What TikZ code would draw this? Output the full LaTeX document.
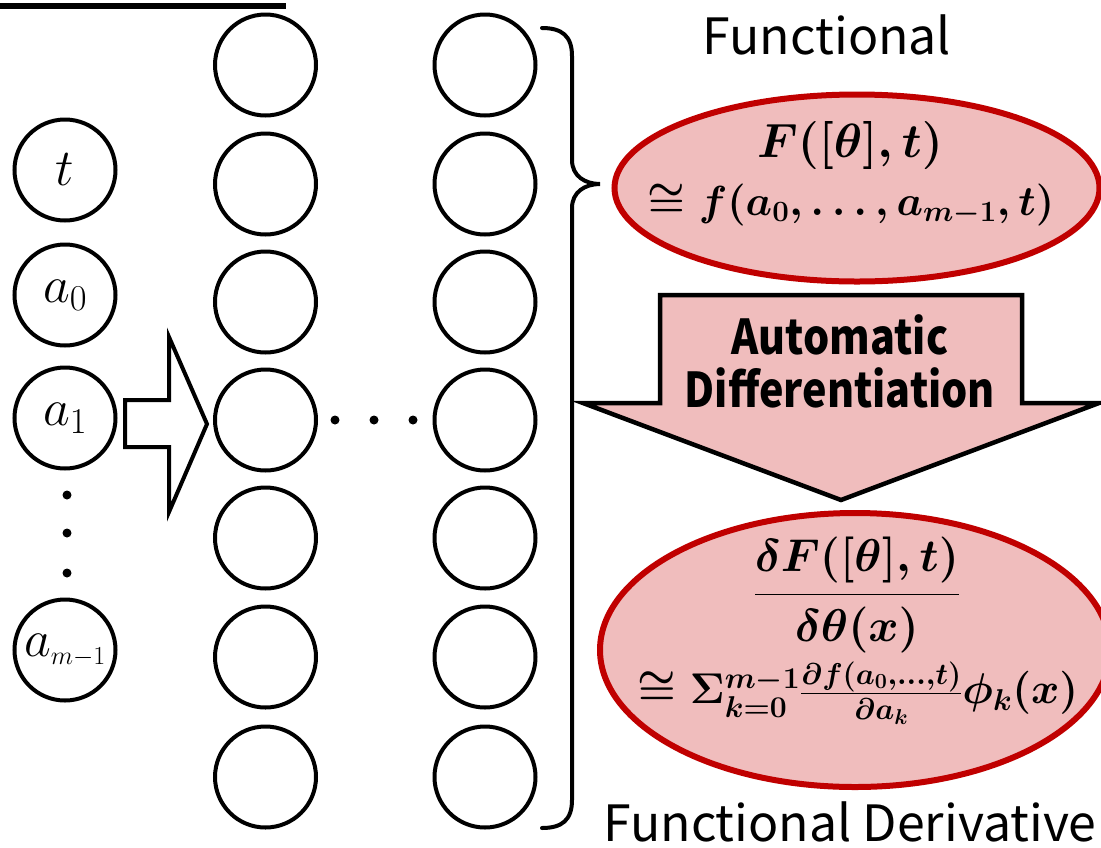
\RequirePackage{fix-cm}
\documentclass[tikz,border=0pt]{standalone}
\usepackage{amsmath}
\usepackage{fontspec}
\newfontfamily\jpfont{Noto Sans CJK JP}
\newfontfamily\adfont{Noto Sans CJK JP}[FakeStretch=0.86]
\usetikzlibrary{shapes.geometric}
\definecolor{pinkfill}{RGB}{240,189,189}
\definecolor{darkred}{RGB}{192,0,0}
\tikzset{
  neuron/.style={circle, draw=black, line width=4pt, minimum size=101pt, inner sep=0pt,
    font=\fontsize{52}{60}\selectfont},
  redell/.style={ellipse, draw=darkred, fill=pinkfill, line width=6pt, inner sep=0pt},
  formula/.style={inner sep=0pt, font=\fontsize{46}{55}\selectfont\boldmath},
  caption/.style={inner sep=0pt, font=\fontsize{50}{60}\selectfont\jpfont},
  adtext/.style={inner sep=0pt, font=\fontsize{48}{58}\selectfont\adfont\bfseries},
  hollowarrow/.style={draw=black, line width=4pt, line join=miter, fill=white},
  pinkarrow/.style={draw=black, line width=4.5pt, line join=miter, fill=pinkfill},
  bracestyle/.style={draw=black, line width=4pt, line cap=round},
}
\begin{document}
\begin{tikzpicture}[x=1pt,y=-1pt]
\useasboundingbox (0,0) rectangle (1101,847);
% top line
\draw[line width=6pt] (0,6) -- (286,6);
% input column
\node[neuron] (nt) at (65,170) {$t$};
\node[neuron] (na0) at (65,295) {$a_0$};
\node[neuron] (na1) at (65,418) {$a_1$};
\node[neuron] (nam) at (65,650) {$a_{\scriptscriptstyle m-1}$};
\fill (67,495) circle (4.5pt) (67,533) circle (4.5pt) (67,573) circle (4.5pt);
% hollow arrow
\draw[hollowarrow] (125,400) -- (169,400) -- (169,337) -- (207,424) -- (169,512) -- (169,447) -- (125,447) -- cycle;
% hidden layers
\foreach \i/\y in {1/65,2/184,3/302,4/420,5/538,6/657,7/777}{
  \node[neuron] (ha\i) at (265.5,\y) {};
  \node[neuron] (hb\i) at (485,\y) {};
}
\fill (335,420) circle (4.5pt) (374,420) circle (4.5pt) (413,420) circle (4.5pt);
% brace
\draw[bracestyle] (542,28) .. controls (562,28) and (572,36) .. (572,56) -- (572,160)
  .. controls (572,176) and (585,184) .. (600,184)
  .. controls (585,184) and (572,192) .. (572,208) -- (572,800)
  .. controls (572,820) and (562,828) .. (542,828);
% functional
\node[caption] (lf) at (827,35) {Functional};
\node[redell, minimum width=485pt, minimum height=187pt] (e1) at (857,188) {};
\node[formula, font=\fontsize{48}{56}\selectfont\boldmath] (f1) at (850,145) {$F([\theta],t)$};
\node[formula, font=\fontsize{42}{50}\selectfont\boldmath] (f2) at (851,205) {$\cong f(a_0,\ldots,a_{m-1},t)$};
% AD arrow
\draw[pinkarrow] (660,295) -- (1022,295) -- (1022,403) -- (1099,403) -- (841,500) -- (583,403) -- (660,403) -- cycle;
\node[adtext] (ad1) at (840,335) {Automatic};
\node[adtext] (ad2) at (840,388) {Differentiation};
% functional derivative
\node[redell, minimum width=510pt, minimum height=274pt] (e2) at (855,650) {};
\node[formula] (g1) at (857,595) {$\dfrac{\delta F([\theta],t)}{\delta\theta(x)}$};
\node[formula, font=\fontsize{43}{52}\selectfont\boldmath] (g2) at (858,693) {$\cong \Sigma_{k=0}^{m-1}\frac{\partial f(a_0,\ldots,t)}{\partial a_k}\phi_k(x)$};
\node[caption] (ld) at (850,822) {Functional Derivative};
\end{tikzpicture}
\end{document}
